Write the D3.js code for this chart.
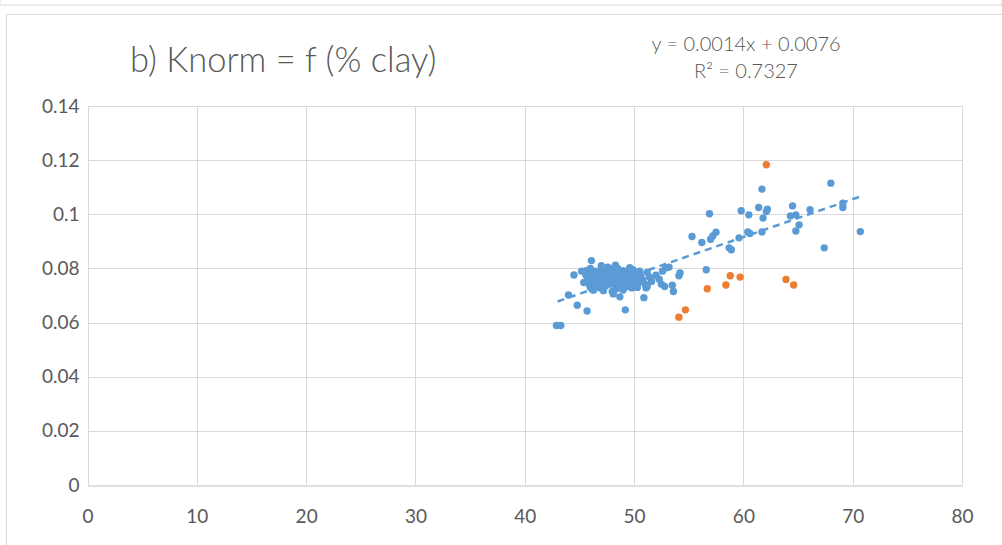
<!DOCTYPE html>
<html>
<head>
<meta charset="utf-8">
<script src="https://cdn.jsdelivr.net/npm/d3@7"></script>
<style>
  body { margin: 0; background: #fff; }
  text { font-family: Lato, "Open Sans", sans-serif; fill: #595959; }
</style>
</head>
<body>
<div id="cnt"></div>
<script>
const titleText = 'b) Knorm = f (% clay)'
const eqText = 'y = 0.0014x + 0.0076'
const r2Text = 'R² = 0.7327'
const slope = 0.0014
const intercept = 0.0076
const trendFrom = 43
const trendTo = 70.8

const xTicks = [0, 10, 20, 30, 40, 50, 60, 70, 80]
const yTicks = [0, 0.02, 0.04, 0.06, 0.08, 0.1, 0.12, 0.14]

// blue series (% clay, Knorm)
const clayBlue = [
    42.9, 43.3, 44.0, 44.5, 44.8, 45.6, 45.7, 46.1, 46.2, 48.1, 48.7, 49.2, 50.9, 51.2,
    45.2, 45.4, 45.6, 45.8, 45.9, 46.0, 46.0, 46.1, 46.2, 46.3, 46.3, 46.4, 46.5, 46.6,
    46.7, 46.8, 46.9, 47.0, 47.0, 47.1, 47.2, 47.2, 47.3, 47.4, 47.5, 47.5, 47.6, 47.6,
    47.7, 47.8, 47.9, 48.0, 48.0, 48.1, 48.2, 48.3, 48.3, 48.4, 48.5, 48.6, 48.7, 48.8,
    48.9, 49.0, 49.0, 49.1, 49.2, 49.3, 49.4, 49.5, 49.6, 49.6, 49.7, 49.8, 49.8, 49.9,
    50.0, 50.2, 50.3, 50.4, 50.5, 50.6, 50.8, 51.0, 51.1, 51.2, 51.4, 51.6, 52.0, 52.3,
    52.6, 52.9, 53.2, 52.5, 52.8, 53.5, 53.6, 54.1, 54.2, 56.6,
    55.3, 56.2, 57.0, 57.2, 57.5, 58.7, 56.9, 58.9, 59.6, 59.8, 60.4, 60.5, 60.6, 61.4,
    61.7, 61.7, 61.8, 62.1, 62.2, 64.3, 64.5, 64.8, 64.8, 65.1, 66.1, 67.4, 68.0, 69.1,
    69.1, 70.7
]
const knormBlue = [
    0.0589, 0.0589, 0.0702, 0.0776, 0.0664, 0.0792, 0.0643, 0.0829, 0.0721, 0.0706, 0.0695, 0.0647, 0.0692, 0.0733,
    0.0790, 0.0748, 0.0775, 0.0760, 0.0742, 0.0730, 0.0800, 0.0785, 0.0768, 0.0752, 0.0720, 0.0738, 0.0790, 0.0775,
    0.0760, 0.0745, 0.0728, 0.0795, 0.0810, 0.0780, 0.0765, 0.0718, 0.0750, 0.0735, 0.0788, 0.0745, 0.0772, 0.0805,
    0.0758, 0.0742, 0.0798, 0.0782, 0.0715, 0.0768, 0.0753, 0.0738, 0.0812, 0.0725, 0.0800, 0.0786, 0.0770, 0.0756,
    0.0740, 0.0792, 0.0720, 0.0777, 0.0762, 0.0748, 0.0733, 0.0785, 0.0770, 0.0803, 0.0755, 0.0740, 0.0728, 0.0795,
    0.0778, 0.0763, 0.0730, 0.0748, 0.0790, 0.0772, 0.0757, 0.0742, 0.0728, 0.0785, 0.0768, 0.0752, 0.0775, 0.0760,
    0.0790, 0.0802, 0.0805, 0.0742, 0.0733, 0.0738, 0.0715, 0.0773, 0.0783, 0.0795,
    0.0918, 0.0896, 0.0908, 0.0920, 0.0934, 0.0876, 0.1002, 0.0869, 0.0913, 0.1013, 0.0935, 0.0998, 0.0929, 0.1025,
    0.1093, 0.0935, 0.0986, 0.1010, 0.1019, 0.0994, 0.1031, 0.0998, 0.0938, 0.0961, 0.1017, 0.0876, 0.1115, 0.1041,
    0.1025, 0.0936
]

// orange series
const clayOrange = [54.1, 54.7, 56.7, 58.4, 58.8, 59.7, 62.1, 63.9, 64.6]
const knormOrange = [0.0620, 0.0647, 0.0725, 0.0739, 0.0773, 0.0768, 0.1183, 0.0759, 0.0739]

const width = 1002
const height = 545
const blue = '#5b9bd5'
const orange = '#ed7d31'
const gridColor = '#d9d9d9'

const svg = d3.select('#cnt')
    .append('svg')
    .attr('width', width)
    .attr('height', height)

// panel above (bottom edge) and the chart panel
svg.append('rect')
    .attr('x', 0).attr('y', -10)
    .attr('width', width).attr('height', 15)
    .attr('fill', 'none')
    .attr('stroke', gridColor)

svg.append('rect')
    .attr('x', 6.5).attr('y', 14.5)
    .attr('width', 1000).attr('height', 540)
    .attr('fill', 'none')
    .attr('stroke', gridColor)

const x = d3.scaleLinear().domain([0, 80]).range([87.5, 962])
const y = d3.scaleLinear().domain([0, 0.14]).range([485, 106])

// grid
svg.append('g')
    .selectAll('line.h')
    .data(yTicks.slice(1))
    .join('line')
    .attr('x1', x(0)).attr('x2', x(80))
    .attr('y1', d => Math.round(y(d)) + 0.5)
    .attr('y2', d => Math.round(y(d)) + 0.5)
    .attr('stroke', gridColor)

svg.append('g')
    .selectAll('line.v')
    .data(xTicks)
    .join('line')
    .attr('x1', d => Math.round(x(d)) + 0.5)
    .attr('x2', d => Math.round(x(d)) + 0.5)
    .attr('y1', y(0.14)).attr('y2', y(0))
    .attr('stroke', gridColor)

// axes
const xAxis = svg.append('g')
    .attr('transform', `translate(0,${Math.round(y(0)) + 0.5})`)
    .call(d3.axisBottom(x).tickValues(xTicks).tickSize(0).tickPadding(24).tickFormat(d3.format('d')))
xAxis.select('.domain').attr('stroke', '#bfbfbf')
xAxis.selectAll('text').style('font-size', '19px').attr('fill', '#595959')

const yAxis = svg.append('g')
    .attr('transform', `translate(${x(0)},0)`)
    .call(d3.axisLeft(y).tickValues(yTicks).tickSize(0).tickPadding(8).tickFormat(d => d === 0 ? '0' : String(+d.toFixed(2))))
yAxis.select('.domain').remove()
yAxis.selectAll('text').style('font-size', '19px').attr('fill', '#595959')
svg.selectAll('.tick text').style('font-family', 'Lato, sans-serif')

// points
svg.append('g')
    .selectAll('circle')
    .data(d3.zip(clayBlue, knormBlue))
    .join('circle')
    .attr('cx', d => x(d[0]))
    .attr('cy', d => y(d[1]))
    .attr('r', 3.7)
    .attr('fill', blue)

svg.append('g')
    .selectAll('circle')
    .data(d3.zip(clayOrange, knormOrange))
    .join('circle')
    .attr('cx', d => x(d[0]))
    .attr('cy', d => y(d[1]))
    .attr('r', 3.7)
    .attr('fill', orange)

// trendline
svg.append('line')
    .attr('x1', x(trendFrom)).attr('y1', y(slope * trendFrom + intercept))
    .attr('x2', x(trendTo)).attr('y2', y(slope * trendTo + intercept))
    .attr('stroke', blue)
    .attr('stroke-width', 2.5)
    .attr('stroke-dasharray', '7,5')

// titles
svg.append('text')
    .attr('x', 130).attr('y', 72)
    .style('font-size', '34.5px')
    .style('font-weight', 300)
    .text(titleText)

svg.append('text')
    .attr('x', 746).attr('y', 51)
    .attr('text-anchor', 'middle')
    .style('font-size', '20px')
    .style('font-weight', 300)
    .text(eqText)

svg.append('text')
    .attr('x', 746).attr('y', 78)
    .attr('text-anchor', 'middle')
    .style('font-size', '20px')
    .style('font-weight', 300)
    .text(r2Text)
</script>
</body>
</html>
